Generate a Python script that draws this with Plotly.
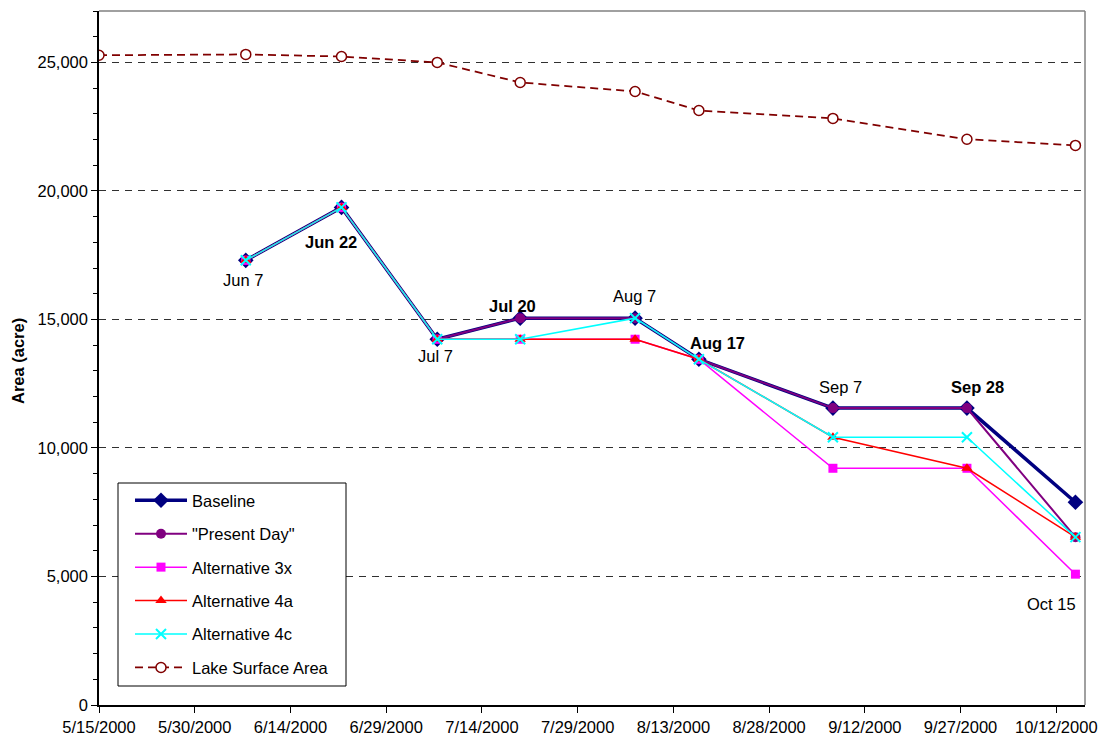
import plotly.graph_objects as go

# ---------------- data ----------------
dates = ["2000-06-07", "2000-06-22", "2000-07-07", "2000-07-20", "2000-08-07",
         "2000-08-17", "2000-09-07", "2000-09-28", "2000-10-15"]
baseline = [17300, 19360, 14230, 15050, 15050, 13450, 11550, 11550, 7890]
present_day = [17300, 19360, 14230, 15050, 15050, 13450, 11550, 11550, 6530]
alt_3x = [17300, 19360, 14230, 14230, 14230, 13450, 9210, 9210, 5090]
alt_4a = [17300, 19360, 14230, 14230, 14230, 13450, 10420, 9210, 6530]
alt_4c = [17300, 19360, 14230, 14230, 15050, 13450, 10420, 10420, 6530]

lake_dates = ["2000-05-15"] + dates
lake_area = [25280, 25310, 25230, 25000, 24220, 23870, 23130, 22820, 22010, 21770]

labels = ["Jun 7", "Jun 22", "Jul 7", "Jul 20", "Aug 7", "Aug 17", "Sep 7", "Sep 28", "Oct 15"]
label_bold = [False, True, False, True, False, True, False, True, False]
label_y = [17300, 19360, 14230, 15050, 15050, 13450, 11550, 11550, 5090]

x_tick_vals = ["2000-05-15", "2000-05-30", "2000-06-14", "2000-06-29", "2000-07-14",
               "2000-07-29", "2000-08-13", "2000-08-28", "2000-09-12", "2000-09-27", "2000-10-12"]
x_tick_text = ["5/15/2000", "5/30/2000", "6/14/2000", "6/29/2000", "7/14/2000",
               "7/29/2000", "8/13/2000", "8/28/2000", "9/12/2000", "9/27/2000", "10/12/2000"]

# --------------- styling ---------------
FONT = "Liberation Sans, Arial, sans-serif"
FS = 16.5
label_shift = [(-3, -20), (-11, -35), (-2, -17), (-8, 12), (-1, 22),
               (19, 16), (8, 21), (11, 21), (-24, -30)]

W, H = 1105, 741
PX0, PX1, PY0, PY1 = 99, 1085, 11, 705
L, R, T, B = PX0, W - PX1, PY0, H - PY1
PW, PH = PX1 - PX0, PY1 - PY0


def fx(px):
    return (px - PX0) / PW


def fy(py):
    return (PY1 - py) / PH


fig = go.Figure()

fig.add_trace(go.Scatter(x=dates, y=baseline, name="Baseline", mode="lines+markers",
                         line=dict(color="#000080", width=3.5),
                         marker=dict(symbol="diamond", size=12, color="#000080"),
                         legendgroup="a"))
fig.add_trace(go.Scatter(x=dates, y=present_day, name="\"Present Day\"", mode="lines+markers",
                         line=dict(color="#800080", width=2),
                         marker=dict(symbol="circle", size=10, color="#800080"),
                         legendgroup="b"))
fig.add_trace(go.Scatter(x=dates, y=alt_3x, name="Alternative 3x", mode="lines+markers",
                         line=dict(color="#FF00FF", width=1.5),
                         marker=dict(symbol="square", size=9, color="#FF00FF"),
                         legendgroup="c"))
fig.add_trace(go.Scatter(x=dates, y=alt_4a, name="Alternative 4a", mode="lines+markers",
                         line=dict(color="#FF0000", width=1.5),
                         marker=dict(symbol="triangle-up", size=10, color="#FF0000"),
                         legendgroup="d"))
fig.add_trace(go.Scatter(x=dates, y=alt_4c, name="Alternative 4c", mode="lines+markers",
                         line=dict(color="#00FFFF", width=1.5),
                         marker=dict(symbol="x-thin", size=10, color="#00FFFF",
                                     line=dict(color="#00FFFF", width=2)),
                         legendgroup="e"))
fig.add_trace(go.Scatter(x=lake_dates, y=lake_area, name="Lake Surface Area", mode="lines+markers",
                         line=dict(color="#800000", width=1.75, dash="8px,5px"),
                         marker=dict(symbol="circle", size=10, color="white",
                                     line=dict(color="#800000", width=1.5)),
                         legendgroup="f"))

for lab, b, d, yv, (dx, dy) in zip(labels, label_bold, dates, label_y, label_shift):
    fig.add_annotation(x=d, y=yv, text=f"<b>{lab}</b>" if b else lab, showarrow=False,
                       xshift=dx, yshift=dy, font=dict(size=FS, color="black", family=FONT))

fig.add_annotation(xref="paper", yref="paper", x=0, y=fy(361), xshift=18 - PX0,
                   xanchor="center", yanchor="middle",
                   text="<b>Area (acre)</b>", textangle=-90, showarrow=False,
                   font=dict(size=FS, color="black", family=FONT))

# top/right grey border
fig.add_shape(type="line", xref="paper", yref="paper", x0=0, x1=1, y0=1, y1=1,
              line=dict(color="#808080", width=1.5))
fig.add_shape(type="line", xref="paper", yref="paper", x0=1, x1=1, y0=0, y1=1,
              line=dict(color="#808080", width=1.5))

# legend box (drawn as a shape for exact size)
fig.add_shape(type="rect", xref="paper", yref="paper", layer="above",
              x0=fx(118), x1=fx(346), y0=fy(686), y1=fy(483),
              fillcolor="white", line=dict(color="black", width=1))

fig.update_layout(
    width=W, height=H,
    margin=dict(l=L, r=R, t=T, b=B),
    paper_bgcolor="white", plot_bgcolor="white",
    font=dict(family=FONT, size=FS, color="black"),
    showlegend=True,
    legend=dict(x=fx(130), y=fy(483), xanchor="left", yanchor="top",
                bgcolor="rgba(0,0,0,0)", borderwidth=0,
                font=dict(size=FS, family=FONT, color="black"),
                tracegroupgap=9, itemwidth=52),
    xaxis=dict(type="date", range=["2000-05-15", "2000-10-16 12:00"],
               tickvals=x_tick_vals, ticktext=x_tick_text, automargin=False,
               ticks="outside", ticklen=6, tickcolor="black", tickwidth=1,
               showline=True, linecolor="black", linewidth=1.5,
               showgrid=False, zeroline=False,
               tickfont=dict(size=FS, family=FONT)),
    yaxis=dict(range=[0, 27000], tickvals=[0, 5000, 10000, 15000, 20000, 25000],
               tickformat=",d", ticks="outside", ticklen=6, tickcolor="black",
               automargin=False,
               showline=True, linecolor="black", linewidth=1.5,
               showgrid=True, gridcolor="#303030", gridwidth=1, griddash="7px,6px",
               zeroline=False,
               minor=dict(dtick=1000, tick0=0, ticks="outside", ticklen=4,
                          tickcolor="black", showgrid=False),
               tickfont=dict(size=FS, family=FONT)),
)

fig.write_html("out.html", config={"displayModeBar": False},
               post_script="document.body.style.margin='0';document.body.style.overflow='hidden';")
